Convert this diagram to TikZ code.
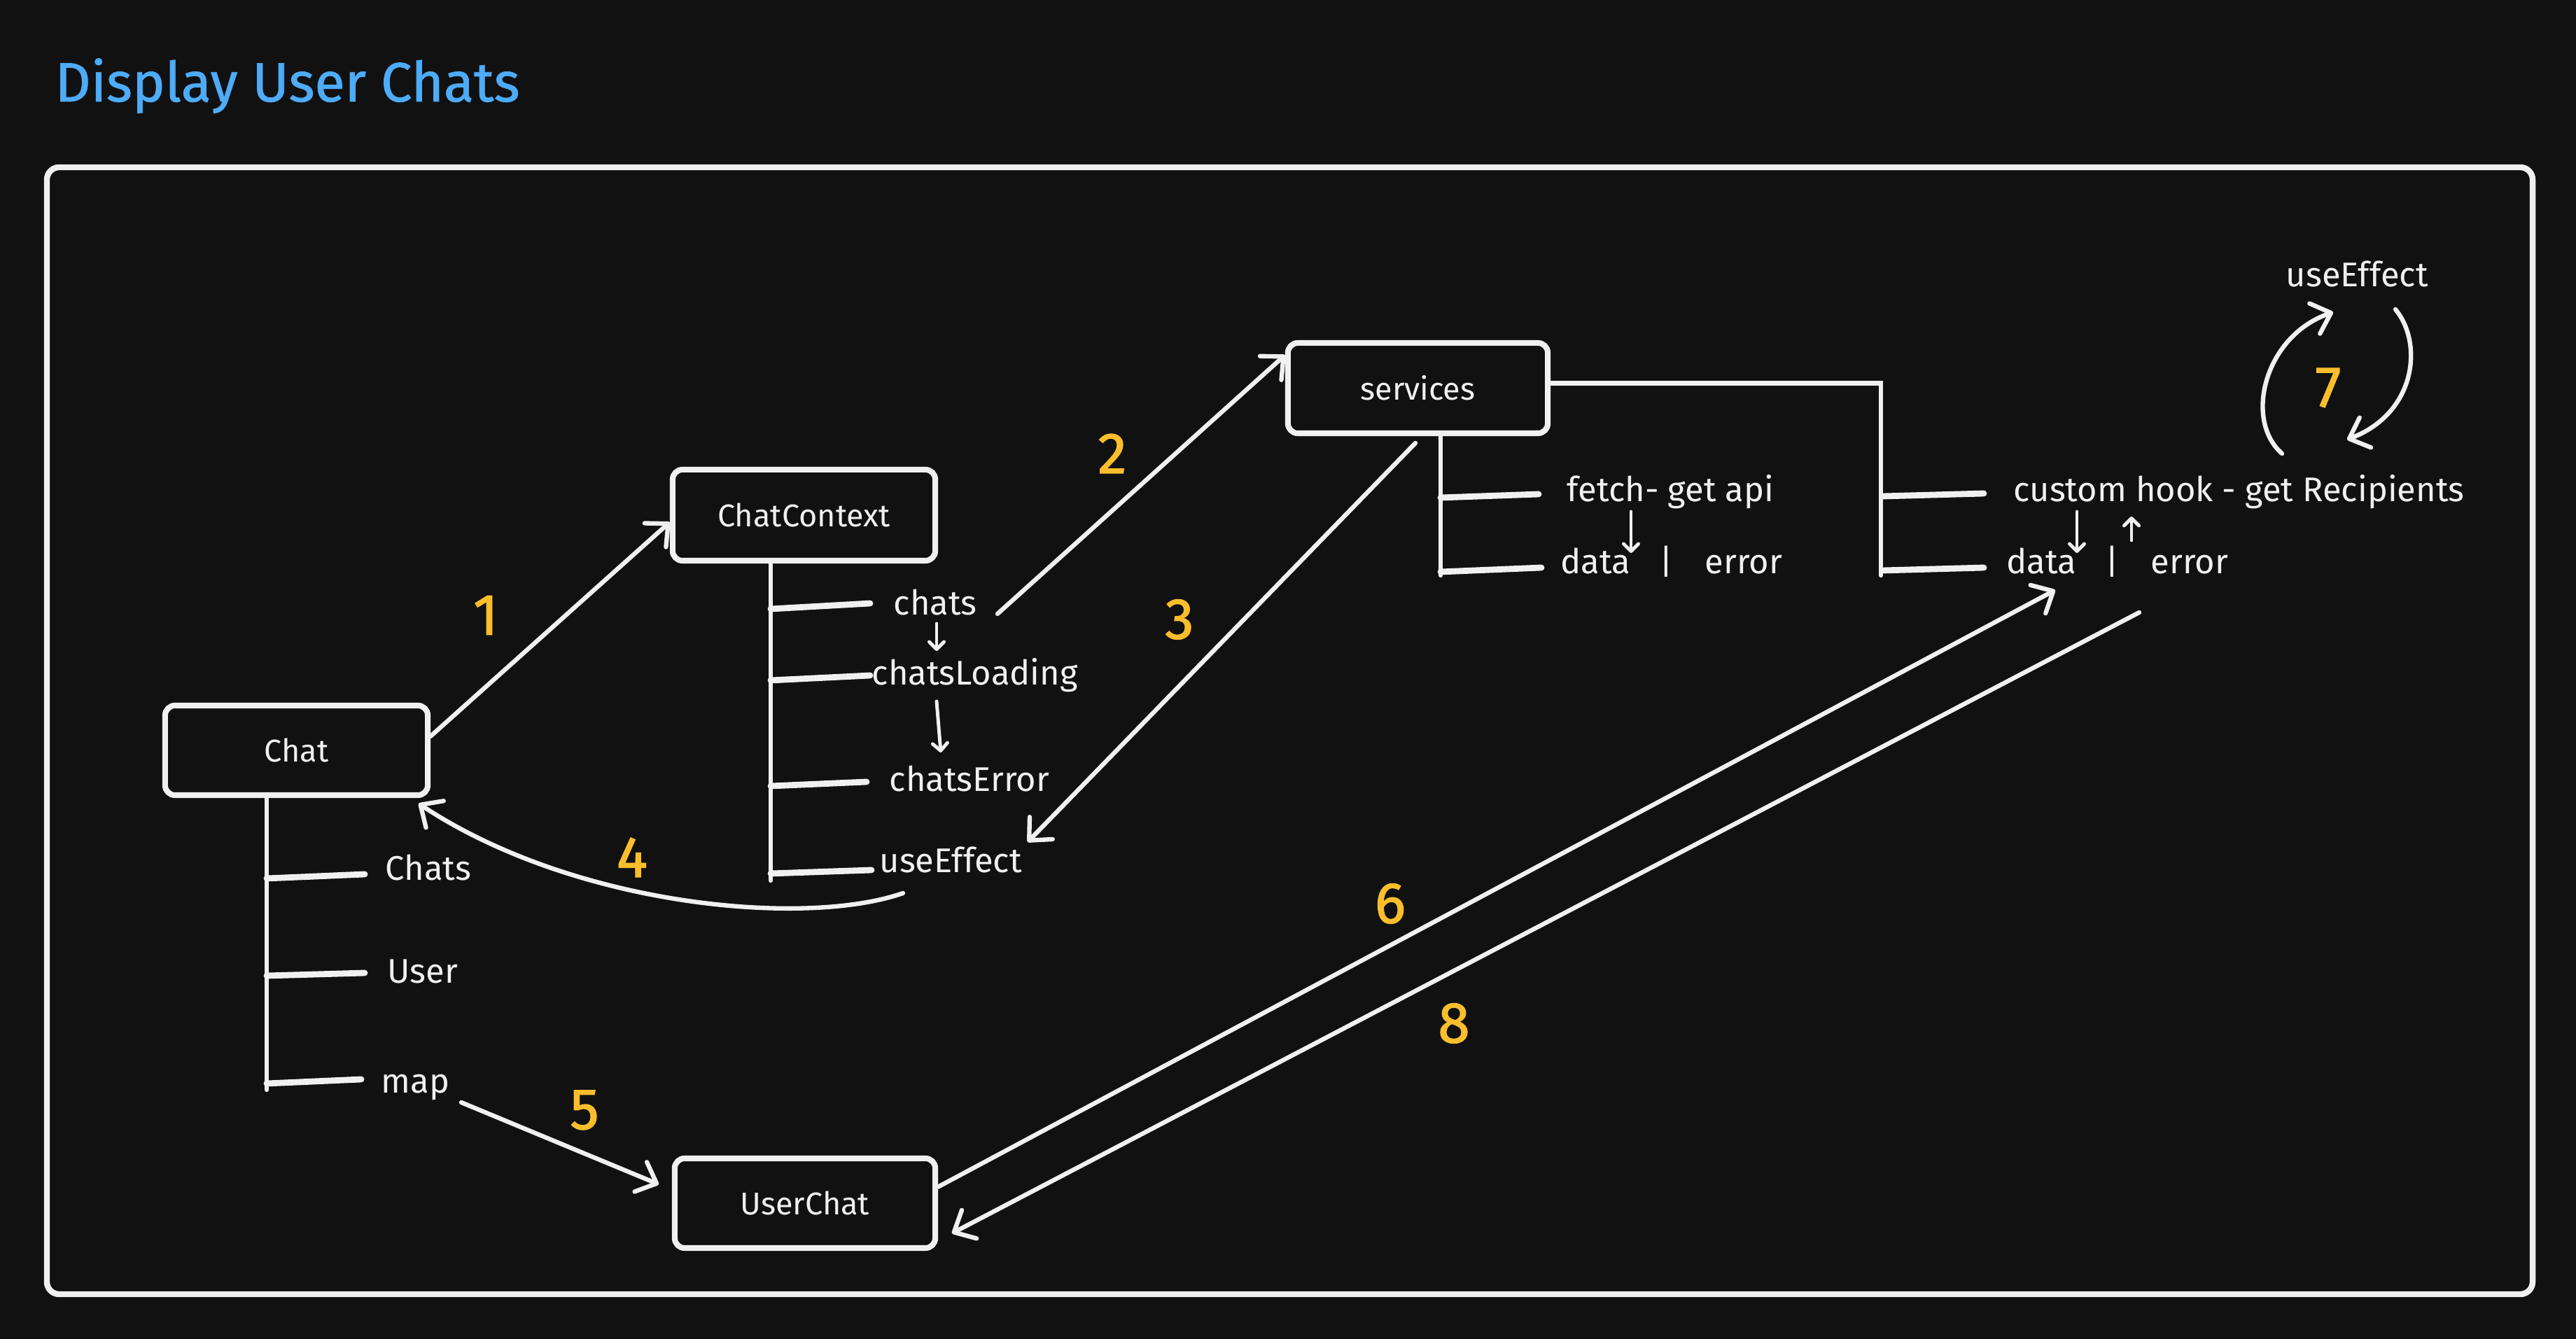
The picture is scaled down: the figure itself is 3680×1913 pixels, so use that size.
\documentclass[tikz,border=0pt]{standalone}
\usepackage{fontspec}
\setmainfont{Fira Sans}
\newfontfamily\titlefont[FakeBold=1]{Fira Sans}
\newfontfamily\numfont[FakeBold=1.6]{Fira Sans}
\usetikzlibrary{arrows.meta}
\definecolor{bg}{RGB}{17,17,17}
\definecolor{ink}{RGB}{240,240,240}
\definecolor{numc}{RGB}{250,190,45}
\definecolor{ttl}{RGB}{77,171,247}
\begin{document}
\begin{tikzpicture}[x=0.01cm,y=-0.01cm,
  box/.style={draw=ink, line width=2.3pt, rounded corners=4pt, inner sep=0pt,
    text=ink, font=\fontsize{12.8}{15}\selectfont},
  lbl/.style={anchor=base west, inner sep=0pt, text=ink, font=\fontsize{13.9}{16}\selectfont},
  numl/.style={text=numc, inner sep=0pt, font=\numfont\fontsize{23.5}{26}\selectfont},
  conn/.style={draw=ink, line width=1.8pt, line cap=round},
  branch/.style={draw=ink, line width=2.5pt, line cap=round},
  arr/.style={conn, -{Straight Barb[length=7pt,width=13pt,line width=1.8pt,round]}},
  sarr/.style={draw=ink, line width=1.4pt, line cap=round, -{Straight Barb[length=3pt,width=6pt,line width=1.4pt,round]}}
]
\fill[bg] (0,0) rectangle (3680,1913);
\node[anchor=base west, inner sep=0pt, text=ttl, font=\titlefont\fontsize{22.5}{26}\selectfont] (title) at (78,145) {Display User Chats};
\draw[ink, line width=2.4pt, rounded corners=5pt] (67,239) rectangle (3618,1849);

% boxes
\node[box, minimum width=3.75cm, minimum height=1.28cm] (chat) at (423.5,1072) {Chat};
\node[box, minimum width=3.75cm, minimum height=1.30cm] (cc) at (1148.5,736) {ChatContext};
\node[box, minimum width=3.71cm, minimum height=1.29cm] (sv) at (2025.5,554.5) {services};
\node[box, minimum width=3.72cm, minimum height=1.28cm] (uc) at (1150,1719) {UserChat};

% Chat tree
\node[lbl] (tChats) at (550,1258) {Chats};
\node[lbl] (tUser) at (553,1405) {User};
\node[lbl] (tMap) at (544,1562) {map};
\coordinate (chatEnd) at (381,1557);
\draw[conn] (chat.south -| chatEnd) -- (chatEnd);
\coordinate (b1a) at (381,1255); \coordinate (b1b) at (521,1249);
\coordinate (b2a) at (381,1394); \coordinate (b2b) at (521,1390);
\coordinate (b3a) at (381,1548); \coordinate (b3b) at (516,1542);
\draw[branch] (b1a) -- (b1b);
\draw[branch] (b2a) -- (b2b);
\draw[branch] (b3a) -- (b3b);

% ChatContext tree
\node[lbl] (tchats) at (1276,879) {chats};
\node[lbl] (tload) at (1245,979) {chatsLoading};
\node[lbl] (terr) at (1270,1131) {chatsError};
\node[lbl] (tue) at (1256,1247) {useEffect};
\coordinate (ccEnd) at (1101,1258);
\draw[conn] (cc.south -| ccEnd) -- (ccEnd);
\coordinate (c1a) at (1101,870); \coordinate (c1b) at (1243,862);
\coordinate (c2a) at (1101,972); \coordinate (c2b) at (1243,965);
\coordinate (c3a) at (1101,1123); \coordinate (c3b) at (1238,1117);
\coordinate (c4a) at (1101,1248); \coordinate (c4b) at (1245,1243);
\draw[branch] (c1a) -- (c1b);
\draw[branch] (c2a) -- (c2b);
\draw[branch] (c3a) -- (c3b);
\draw[branch] (c4a) -- (c4b);
\coordinate (s1a) at (1338,891); \coordinate (s1b) at (1338,930);
\coordinate (s2a) at (1338,1002); \coordinate (s2b) at (1344,1075);
\draw[sarr] (s1a) -- (s1b);
\draw[sarr] (s2a) -- (s2b);

% services tree
\node[lbl] (tfetch) at (2238,717) {fetch- get api};
\node[lbl] (td1) at (2229,820) {data};
\node[lbl, anchor=base] (tp1) at (2380,820) {|};
\node[lbl] (te1) at (2435,820) {error};
\coordinate (svEnd) at (2058,822);
\draw[conn] (sv.south -| svEnd) -- (svEnd);
\coordinate (d1a) at (2058,711); \coordinate (d1b) at (2198,706);
\coordinate (d2a) at (2058,817); \coordinate (d2b) at (2202,811);
\draw[branch] (d1a) -- (d1b);
\draw[branch] (d2a) -- (d2b);
\coordinate (s3a) at (2330,731); \coordinate (s3b) at (2330,790);
\draw[sarr] (s3a) -- (s3b);

% custom hook tree
\node[lbl] (thook) at (2876,717) {custom hook - get Recipients};
\node[lbl] (td2) at (2866,820) {data};
\node[lbl, anchor=base] (tp2) at (3017,820) {|};
\node[lbl] (te2) at (3072,820) {error};
\coordinate (hkEnd) at (2687,822);
\draw[conn] ([yshift=0.07cm]sv.east) -| (hkEnd);
\coordinate (h1a) at (2690,709); \coordinate (h1b) at (2834,705);
\coordinate (h2a) at (2690,815); \coordinate (h2b) at (2834,811);
\draw[branch] (h1a) -- (h1b);
\draw[branch] (h2a) -- (h2b);
\coordinate (s4a) at (2967,731); \coordinate (s4b) at (2967,790);
\coordinate (s5a) at (3045,772); \coordinate (s5b) at (3045,738);
\draw[sarr] (s4a) -- (s4b);
\draw[sarr] (s5a) -- (s5b);

% useEffect loop
\node[lbl] (tue2) at (3265,410) {useEffect};
\coordinate (l1a) at (3260,648); \coordinate (l1b) at (3333,446);
\coordinate (l2a) at (3422,442); \coordinate (l2b) at (3353,628);
\draw[arr] (l1a) .. controls (3205,600) and (3235,480) .. (l1b);
\draw[arr] (l2a) .. controls (3462,490) and (3452,590) .. (l2b);

% main arrows
\coordinate (a2s) at (1425,877);
\coordinate (a3s) at (2022,633); \coordinate (a3e) at (1468,1203);
\coordinate (a4s) at (1290,1276); \coordinate (a4e) at (598,1148);
\coordinate (a5s) at (659,1575); \coordinate (a5e) at (941,1692);
\coordinate (a6e) at (2936,843);
\coordinate (a8s) at (3056,875); \coordinate (a8e) at (1360,1762);
\draw[arr] (chat.6) -- (cc.183);
\draw[arr] (a2s) -- (sv.166);
\draw[arr] (a3s) -- (a3e);
\draw[arr] (a4s) .. controls (1150,1325) and (820,1295) .. (a4e);
\draw[arr] (a5s) -- (a5e);
\draw[arr] (uc.7) -- (a6e);
\draw[arr] (a8s) -- (a8e);

% numbers
\node[numl] (n1) at (694,879) {1};
\node[numl] (n2) at (1589,648) {2};
\node[numl] (n3) at (1685,885) {3};
\node[numl] (n4) at (903,1225) {4};
\node[numl] (n5) at (835,1586) {5};
\node[numl] (n6) at (1986,1291) {6};
\node[numl] (n7) at (3326,554) {7};
\node[numl] (n8) at (2077,1462) {8};
\end{tikzpicture}
\end{document}
